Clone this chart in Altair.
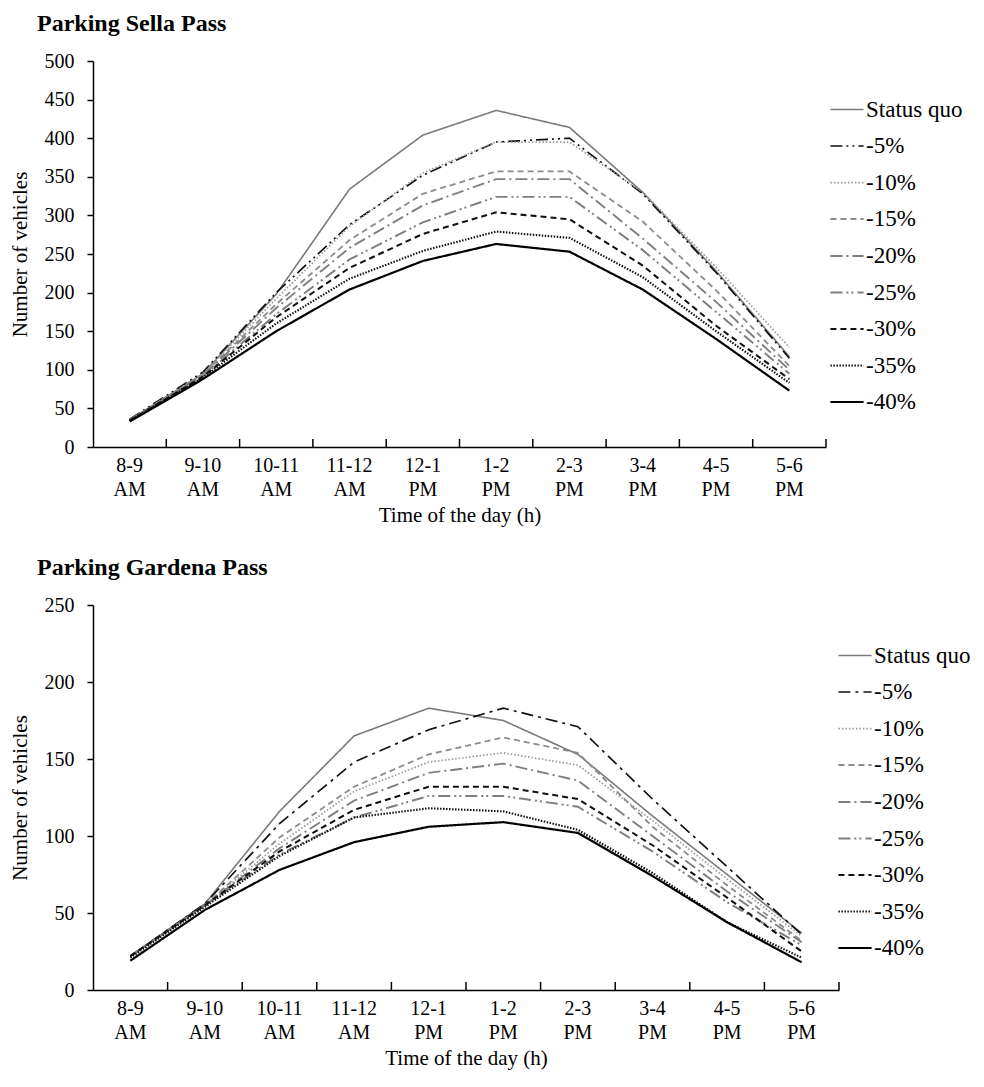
import altair as alt
import pandas as pd

times = ["8-9 AM", "9-10 AM", "10-11 AM", "11-12 AM", "12-1 PM",
         "1-2 PM", "2-3 PM", "3-4 PM", "4-5 PM", "5-6 PM"]
scenarios = ["Status quo", "-5%", "-10%", "-15%", "-20%", "-25%", "-30%", "-35%", "-40%"]

# Parking Sella Pass
sella_status_quo = [35, 95, 198, 334, 404, 436, 414, 330, 228, 117]
sella_m5 = [36, 97, 200, 288, 352, 395, 400, 328, 226, 115]
sella_m10 = [35, 95, 192, 286, 355, 395, 395, 330, 233, 129]
sella_m15 = [35, 94, 185, 268, 328, 357, 357, 292, 203, 105]
sella_m20 = [35, 93, 180, 258, 313, 347, 347, 270, 188, 100]
sella_m25 = [35, 92, 172, 243, 291, 324, 324, 255, 175, 95]
sella_m30 = [34, 91, 168, 232, 276, 304, 295, 235, 157, 88]
sella_m35 = [34, 90, 160, 218, 254, 279, 271, 220, 150, 83]
sella_m40 = [33, 88, 150, 204, 241, 263, 253, 204, 140, 73]

# Parking Gardena Pass
gardena_status_quo = [22, 56, 116, 165, 183, 175, 153, 113, 75, 37]
gardena_m5 = [22, 56, 108, 148, 169, 183, 171, 124, 80, 36]
gardena_m10 = [22, 55, 95, 129, 148, 154, 146, 110, 72, 35]
gardena_m15 = [22, 55, 99, 132, 153, 164, 154, 106, 68, 32]
gardena_m20 = [22, 55, 92, 123, 141, 147, 136, 100, 64, 31]
gardena_m25 = [22, 55, 88, 112, 126, 126, 119, 90, 57, 29]
gardena_m30 = [22, 55, 90, 117, 132, 132, 124, 94, 60, 25]
gardena_m35 = [21, 54, 87, 112, 118, 116, 104, 76, 44, 21]
gardena_m40 = [19, 52, 78, 96, 106, 109, 102, 74, 44, 18]

sella_series = [sella_status_quo, sella_m5, sella_m10, sella_m15, sella_m20,
                sella_m25, sella_m30, sella_m35, sella_m40]
gardena_series = [gardena_status_quo, gardena_m5, gardena_m10, gardena_m15, gardena_m20,
                  gardena_m25, gardena_m30, gardena_m35, gardena_m40]

colors = ["#7a7a7a", "#111111", "#9a9a9a", "#8c8c8c", "#7f7f7f", "#7f7f7f", "#111111", "#111111", "#000000"]
widths = [1.6, 2.2, 1.6, 1.8, 1.8, 1.8, 2.0, 2.0, 2.4]
dashes_top = [[1, 0], [12, 4, 2, 4, 2, 4], [1.5, 2], [6, 4], [12, 4, 2, 4], [12, 4, 2, 3, 2, 4],
              [6, 4], [1.5, 1.5], [1, 0]]
dashes_bottom = [[1, 0], [12, 5, 3, 5], [1.5, 2], [6, 4], [12, 4, 2, 4], [12, 4, 2, 3, 2, 4],
                 [6, 4], [1.5, 1.5], [1, 0]]

FONT = "Liberation Serif"


def long_table(series):
    rows = []
    for name, vals in zip(scenarios, series):
        for t, v in zip(times, vals):
            rows.append({"time": t, "scenario": name, "value": v})
    return pd.DataFrame(rows)


def panel(series, title, ymax, w, h, dashes, lx, ly):
    df = long_table(series)
    xscale = alt.Scale(type="band", domain=times, paddingInner=0, paddingOuter=0)
    legend = alt.Legend(title=None, orient="none", legendX=lx, legendY=ly,
                        symbolType="stroke", symbolSize=1100, labelFont=FONT,
                        labelFontSize=23, labelColor="#000", rowPadding=6.5,
                        labelOffset=1, labelLimit=250)
    lines = alt.Chart(df).mark_line().encode(
        x=alt.X("time:N", bandPosition=0.5, scale=xscale, sort=times,
                axis=alt.Axis(title="Time of the day (h)", ticks=False,
                              labelExpr="split(datum.value, ' ')", labelAngle=0)),
        y=alt.Y("value:Q", scale=alt.Scale(domain=[0, ymax]),
                axis=alt.Axis(title="Number of vehicles", values=list(range(0, ymax + 1, 50)))),
        color=alt.Color("scenario:N", scale=alt.Scale(domain=scenarios, range=colors),
                        sort=scenarios, legend=legend),
        strokeDash=alt.StrokeDash("scenario:N", scale=alt.Scale(domain=scenarios, range=dashes),
                                  sort=scenarios, legend=legend),
        strokeWidth=alt.StrokeWidth("scenario:N", scale=alt.Scale(domain=scenarios, range=widths),
                                    sort=scenarios, legend=legend),
        order=alt.Order("time_idx:Q"),
    ).transform_calculate(
        time_idx="indexof(" + str(times) + ", datum.time)"
    )
    ticks = alt.Chart(pd.DataFrame({"time": times})).mark_rule(color="#000", strokeWidth=1.5).encode(
        x=alt.X("time:N", bandPosition=1, scale=xscale, sort=times),
        y=alt.value(h - 8),
        y2=alt.value(h),
    )
    return alt.layer(lines, ticks).properties(
        width=w, height=h,
        title=alt.TitleParams(title, anchor="start", font=FONT, fontSize=24,
                              fontWeight="bold", color="#000", dx=28, offset=15),
    )


top = panel(sella_series, "Parking Sella Pass", 500, 733, 386, dashes_top, 736, 31)
bottom = panel(gardena_series, "Parking Gardena Pass", 250, 746, 385, dashes_bottom, 744, 33)

chart = alt.vconcat(top, bottom, spacing=31).resolve_scale(
    color="independent", strokeDash="independent", strokeWidth="independent",
    x="independent", y="independent"
).resolve_legend(
    color="independent", strokeDash="independent", strokeWidth="independent"
).configure_view(
    stroke=None
).configure_axis(
    grid=False, domainColor="#000", domainWidth=1.5, tickColor="#000", tickWidth=1.5,
    labelFont=FONT, titleFont=FONT, labelColor="#000", titleColor="#000",
    titleFontWeight="normal"
).configure_axisY(
    labelFontSize=20, titleFontSize=21, tickSize=6, labelPadding=13, titlePadding=14
).configure_axisX(
    labelFontSize=20, titleFontSize=21, labelPadding=8, labelLineHeight=24, titlePadding=5
).properties(
    background="white",
    padding={"left": 1, "top": 4, "right": 0, "bottom": 6}
)

chart.save("out.html", embed_options={"renderer": "svg", "actions": False})
